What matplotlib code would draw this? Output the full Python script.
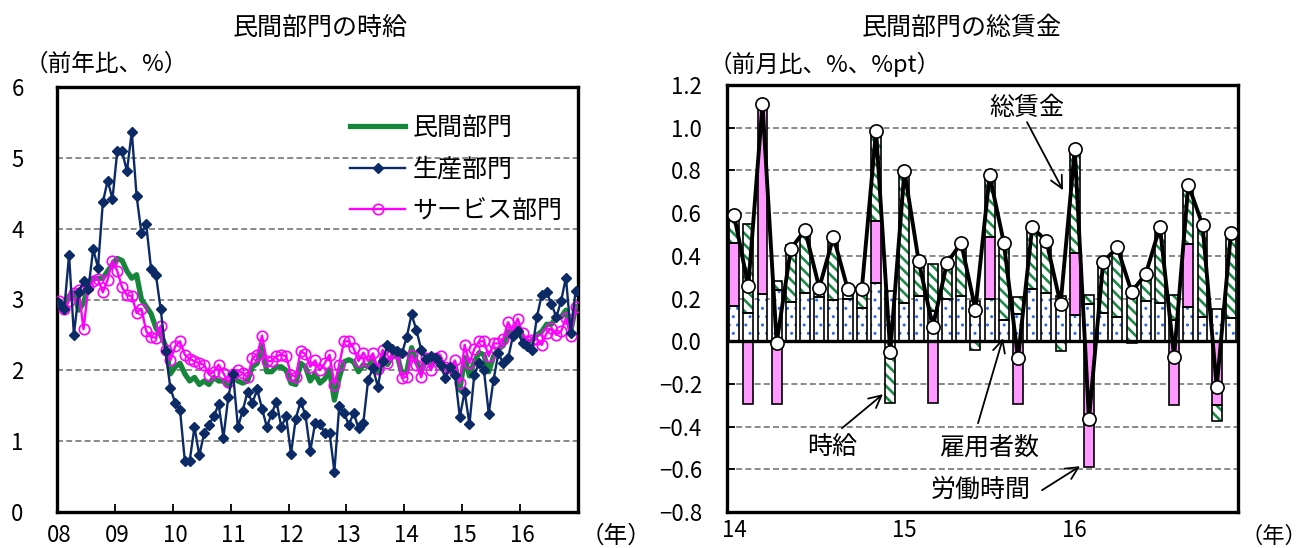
import matplotlib
matplotlib.use("Agg")
import matplotlib.pyplot as plt
import numpy as np

plt.rcParams['font.family'] = ['Noto Sans CJK JP', 'DejaVu Sans']
plt.rcParams['axes.unicode_minus'] = True

# ---- 民間部門の時給（前年比、%）: monthly, Jan 2008 - Dec 2016 ----
year_labels = ['08', '09', '10', '11', '12', '13', '14', '15', '16']

private = [2.95, 2.90, 3.05, 3.10, 2.85, 2.95, 3.20, 3.30, 3.30, 3.30, 3.40, 3.50,
           3.58, 3.55, 3.40, 3.30, 3.35, 3.00, 2.90, 2.80, 2.60, 2.50, 2.35, 1.95,
           2.05, 2.10, 1.95, 1.85, 1.90, 1.80, 1.85, 1.80, 1.90, 1.85, 1.85, 1.78,
           1.90, 1.85, 1.82, 1.85, 2.05, 2.10, 2.35, 1.98, 1.98, 2.05, 2.05, 2.00,
           1.82, 1.80, 2.10, 2.05, 1.85, 1.95, 1.82, 1.88, 2.00, 1.58, 1.90, 2.12,
           2.15, 2.12, 1.98, 2.08, 2.05, 2.15, 1.98, 2.20, 2.08, 2.20, 2.22, 1.95,
           1.98, 2.32, 2.12, 1.98, 2.15, 2.08, 2.12, 2.12, 2.02, 2.00, 2.08, 1.72,
           2.18, 1.92, 2.12, 2.25, 2.22, 1.98, 2.20, 2.30, 2.35, 2.55, 2.50, 2.60,
           2.45, 2.40, 2.42, 2.50, 2.55, 2.65, 2.65, 2.75, 2.75, 2.85, 2.55, 2.90]

production = [2.95, 2.86, 3.63, 2.50, 3.10, 3.26, 3.15, 3.71, 3.45, 4.37, 4.68, 4.42,
              5.10, 5.09, 4.81, 5.37, 4.46, 3.94, 4.06, 3.43, 3.35, 2.86, 2.27, 1.75,
              1.54, 1.44, 0.72, 0.72, 1.20, 0.80, 1.11, 1.23, 1.35, 1.52, 1.05, 1.62,
              1.95, 1.20, 1.43, 1.70, 1.54, 1.73, 1.46, 1.20, 1.39, 1.56, 1.20, 1.35,
              0.82, 1.32, 1.56, 1.37, 0.86, 1.25, 1.24, 1.12, 1.12, 0.57, 1.49, 1.40,
              1.23, 1.40, 1.18, 1.26, 1.87, 2.03, 1.77, 2.13, 2.36, 2.30, 2.27, 2.24,
              2.47, 2.79, 2.57, 2.29, 2.16, 2.20, 2.18, 2.08, 1.89, 2.05, 1.94, 1.34,
              1.70, 1.24, 1.94, 2.10, 2.00, 1.39, 1.87, 2.24, 2.10, 2.17, 2.48, 2.55,
              2.39, 2.34, 2.29, 2.76, 3.07, 3.10, 2.94, 2.75, 2.98, 3.31, 2.53, 3.12]

services = [2.98, 2.87, 2.98, 3.09, 3.13, 2.58, 3.17, 3.26, 3.29, 3.10, 3.28, 3.55,
            3.40, 3.17, 3.06, 3.05, 2.81, 2.87, 2.55, 2.47, 2.46, 2.63, 2.29, 2.14,
            2.34, 2.41, 2.22, 2.16, 2.13, 2.10, 2.08, 1.94, 1.98, 2.08, 1.96, 1.83,
            1.95, 2.00, 1.96, 1.90, 2.17, 2.22, 2.49, 2.13, 2.13, 2.20, 2.22, 2.20,
            1.94, 1.91, 2.27, 2.23, 2.05, 2.14, 2.00, 2.10, 2.22, 1.80, 2.08, 2.41,
            2.41, 2.31, 2.13, 2.25, 2.13, 2.24, 2.02, 2.29, 2.10, 2.24, 2.25, 1.89,
            1.91, 2.22, 2.08, 1.90, 2.17, 2.00, 2.17, 2.20, 2.05, 2.03, 2.14, 1.82,
            2.36, 2.10, 2.30, 2.41, 2.41, 2.20, 2.38, 2.38, 2.44, 2.68, 2.54, 2.73,
            2.53, 2.41, 2.43, 2.44, 2.36, 2.53, 2.60, 2.50, 2.55, 2.74, 2.49, 2.90]

# ---- 民間部門の総賃金（前月比、%、%pt）: monthly, Jan 2014 - Dec 2016 ----
wage_year_labels = ['14', '15', '16']

employees = [0.164, 0.133, 0.223, 0.242, 0.184, 0.228, 0.208, 0.195, 0.200, 0.156, 0.273, 0.234,
             0.180, 0.211, 0.140, 0.200, 0.211, 0.190, 0.197, 0.098, 0.127, 0.244, 0.228, 0.210,
             0.122, 0.173, 0.130, 0.114, -0.010, 0.189, 0.177, 0.098, 0.161, 0.114, 0.153, 0.108]

hours = [0.297, -0.295, 0.883, -0.295, 0.0, 0.0, 0.0, 0.0, 0.0, 0.0, 0.290, 0.0,
         0.0, 0.0, -0.290, 0.0, 0.0, 0.0, 0.292, 0.0, -0.295, 0.0, 0.0, 0.0,
         0.289, -0.589, 0.0, 0.0, 0.0, 0.0, 0.0, -0.298, 0.294, 0.0, -0.298, 0.0]

hourly = [0.106, 0.416, 0.0, 0.040, 0.266, 0.277, 0.034, 0.281, 0.040, 0.080, 0.410, -0.289,
          0.600, 0.148, 0.220, 0.167, 0.247, -0.042, 0.278, 0.356, 0.081, 0.273, 0.239, -0.045,
          0.473, 0.044, 0.247, 0.325, 0.245, 0.120, 0.344, 0.117, 0.273, 0.423, -0.078, 0.378]

total_pay = [0.590, 0.258, 1.110, -0.008, 0.434, 0.520, 0.250, 0.489, 0.245, 0.245, 0.986, -0.050,
             0.798, 0.377, 0.067, 0.367, 0.460, 0.148, 0.778, 0.462, -0.080, 0.533, 0.470, 0.173,
             0.900, -0.366, 0.372, 0.439, 0.231, 0.314, 0.536, -0.073, 0.733, 0.545, -0.214, 0.505]

W, H = 1308, 548
fig = plt.figure(figsize=(W / 100, H / 100), dpi=100)


def fx(px):
    return px / W


def fy(py):
    return 1 - py / H


GRID = dict(color='#808080', lw=1.3, ls=(0, (3.3, 1.8)))
TICK_FS = 16

# ================= left: hourly earnings =================
ax1 = fig.add_axes([fx(57), fy(512), fx(578) - fx(57), fy(87) - fy(512)])
xm = np.arange(len(private))
ax1.plot(xm, private, color='#16873a', lw=3.8, solid_joinstyle='round',
         label='民間部門', zorder=3)
ax1.plot(xm, production, color='#0b2a66', lw=1.7, marker='D', ms=5,
         label='生産部門', zorder=5)
ax1.plot(xm, services, color='#ff00ff', lw=1.7, marker='o', ms=7.5,
         mfc='none', mew=1.2, label='サービス部門', zorder=4)
ax1.set_xlim(-0.5, len(xm) - 0.5)
ax1.set_ylim(0, 6)
ax1.set_yticks(range(0, 7))
ax1.set_yticklabels([str(v) for v in range(0, 7)])
ax1.set_xticks([12 * k for k in range(len(year_labels))])
ax1.set_xticklabels(year_labels)
ax1.set_xticks([12 * k - 0.5 for k in range(len(year_labels) + 1)], minor=True)
ax1.tick_params(axis='x', which='major', length=0, pad=9, labelsize=TICK_FS)
ax1.tick_params(axis='x', which='minor', direction='in', length=6, width=1.3)
ax1.tick_params(axis='y', direction='in', length=0, pad=24, labelsize=TICK_FS)
for v in range(1, 6):
    ax1.axhline(v, zorder=1, **GRID)
for s in ax1.spines.values():
    s.set_linewidth(2.4)
leg = ax1.legend(loc='upper left', bbox_to_anchor=(fx(350), fy(115)),
                 bbox_transform=fig.transFigure, frameon=False, fontsize=18,
                 handlelength=2.2, handletextpad=0.3, labelspacing=0.62,
                 borderpad=0, borderaxespad=0, numpoints=1)

# ================= right: total pay decomposition =================
ax2 = fig.add_axes([fx(727), fy(512), fx(1238) - fx(727), fy(85) - fy(512)])
n = len(total_pay)
xi = np.arange(n)
bw = 0.7
pos_base = np.zeros(n)
neg_base = np.zeros(n)
components = [
    (employees, dict(facecolor='white', edgecolor='#3569dc', hatch='..'), 1.0),
    (hours, dict(facecolor='#ff99ff', edgecolor='none', hatch=None), 1.0),
    (hourly, dict(facecolor='white', edgecolor='#1d8a4a', hatch='\\\\\\'), 1.9),
]
for vals, style, hlw in components:
    v = np.array(vals, dtype=float)
    bottom = np.where(v > 0, pos_base, neg_base)
    mask = v != 0
    with plt.rc_context({'hatch.linewidth': hlw}):
        bars = ax2.bar(xi[mask], v[mask], bottom=bottom[mask], width=bw, lw=0,
                       zorder=2, **style)
        for p in bars:
            if hasattr(p, 'set_hatch_linewidth'):
                p.set_hatch_linewidth(hlw)
    ax2.bar(xi[mask], v[mask], bottom=bottom[mask], width=bw, fill=False,
            edgecolor='black', lw=1.2, zorder=2.5)
    pos_base += np.where(v > 0, v, 0)
    neg_base += np.where(v < 0, v, 0)

ax2.axhline(0, color='black', lw=2.4, zorder=3)
ax2.plot(xi, total_pay, color='black', lw=2.8, marker='o', ms=9.5,
         mfc='white', mec='black', mew=1.2, zorder=5)

ax2.set_xlim(-0.5, n - 0.5)
ax2.set_ylim(-0.8, 1.2)
yt = np.round(np.arange(-0.8, 1.21, 0.2), 1)
ax2.set_yticks(yt)
ax2.set_yticklabels([('\u2212' if v < 0 else '') + f'{abs(v):.1f}' for v in yt])
for v in yt:
    if abs(v) > 1e-9 and -0.8 < v < 1.2:
        ax2.axhline(v, zorder=1, **GRID)
ax2.set_xticks([12 * k for k in range(len(wage_year_labels))])
ax2.set_xticklabels(wage_year_labels)
ax2.tick_params(axis='x', length=0, pad=5, labelsize=TICK_FS)
ax2.tick_params(axis='y', direction='in', length=6, width=1.3, pad=18, labelsize=TICK_FS)
for s in ax2.spines.values():
    s.set_linewidth(2.4)


def px2data(px, py):
    return ((px - 727) / 14.194 - 0.5, (341 - py) / 213.5)


notes = [
    ('総賃金', (1027, 108), (1027, 122), (1063, 190)),
    ('時給', (832, 447), (842, 428), (883, 394)),
    ('雇用者数', (989, 447), (978, 423), (1003, 338)),
    ('労働時間', (981, 490), (1042, 490), (1080, 466)),
]
for label, tpos, start, tip in notes:
    ax2.text(*px2data(*tpos), label, ha='center', va='center', fontsize=18, zorder=6)
    ax2.annotate('', xy=px2data(*tip), xytext=px2data(*start),
                 arrowprops=dict(arrowstyle='->', color='black', lw=1.3,
                                 mutation_scale=22, shrinkA=0, shrinkB=0), zorder=6)

# ================= titles and unit labels =================
fig.text(fx(320), fy(28), '民間部門の時給', ha='center', va='center', fontsize=18)
fig.text(fx(962), fy(28), '民間部門の総賃金', ha='center', va='center', fontsize=18)
fig.text(fx(25), fy(64), '（前年比、%）', ha='left', va='center', fontsize=17)
fig.text(fx(709), fy(64), '（前月比、%、%pt）', ha='left', va='center', fontsize=17)
fig.text(fx(616), fy(536), '（年）', ha='center', va='center', fontsize=17)
fig.text(fx(1307), fy(536), '（年）', ha='right', va='center', fontsize=16)

fig.savefig('out.png', dpi=100)
